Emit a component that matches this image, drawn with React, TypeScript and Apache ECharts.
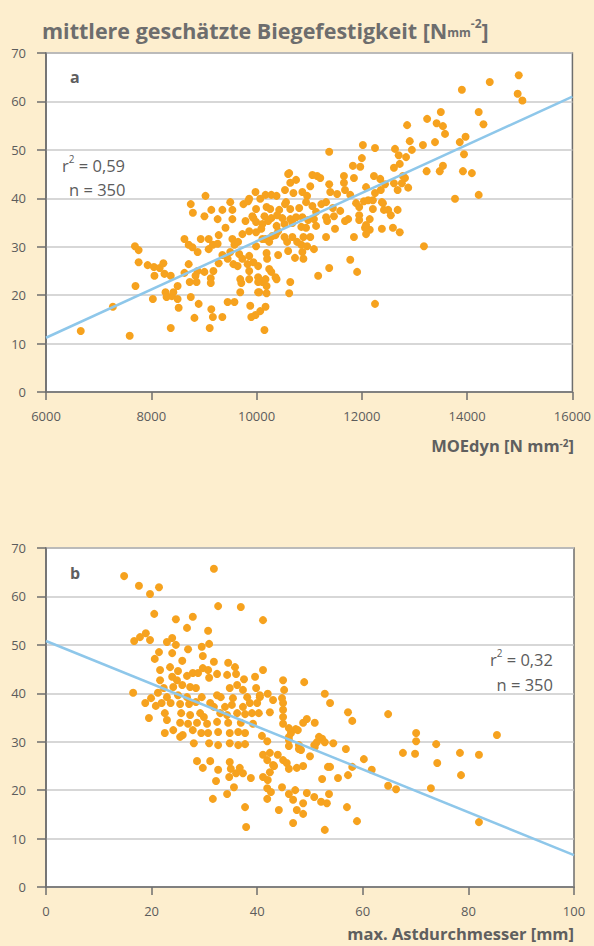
import React, { useEffect, useRef } from "react";
import * as echarts from "echarts";

// ---- Data -----------------------------------------------------------------
// a: MOEdyn [N mm-2] vs. estimated bending strength [N mm-2]
const pointsA: [number, number][] = [
  [14980,65.4],[14430,64.0],[13900,62.4],[14960,61.6],[15050,60.2],[14220,57.8],[13500,57.8],[13240,56.4],[13420,55.5],[13540,54.9],
  [14310,55.3],[13580,53.3],[12860,55.1],[12910,51.8],[13160,51.0],[13390,51.6],[13970,52.7],[13860,51.6],[13940,49.1],[12950,50.0],
  [12630,50.2],[12700,48.9],[12840,48.5],[12610,46.3],[12720,47.1],[13230,45.6],[13480,45.6],[13540,46.7],[13920,45.6],[14090,45.2],
  [14220,40.7],[13770,39.9],[12780,44.6],[12820,44.2],[12880,42.2],[12680,41.7],[12760,43.1],[12610,43.1],[12440,42.9],[12350,44.0],
  [12230,44.6],[12020,51.0],[12250,50.4],[12000,48.3],[11830,46.7],[11970,46.5],[11660,44.6],[11660,43.2],[12080,42.3],[12360,41.7],
  [11850,44.2],[12210,39.6],[12380,39.2],[12550,36.5],[12500,37.6],[12680,37.6],[12420,37.6],[12150,35.7],[11950,36.5],[11950,35.5],
  [11740,35.7],[11470,36.3],[11490,33.7],[11680,35.3],[12060,33.9],[12150,33.5],[12080,32.6],[11850,32.0],[12380,33.7],[12590,33.9],
  [12720,33.0],[13180,30.1],[11780,27.3],[11910,24.8],[12250,18.2],[11380,49.6],[11380,25.6],
  [10620,45.2],[11060,44.8],[11150,44.6],[11210,44.2],[10540,41.7],[10640,43.2],[10750,43.8],[11020,42.5],[11380,42.9],[11680,41.7],
  [12250,41.1],[9980,41.3],[10170,40.7],[10280,40.7],[10380,40.5],[10560,39.2],[10700,41.1],[10870,41.3],[10960,40.5],[11400,41.3],
  [11530,40.9],[11780,40.7],[12040,39.4],[12120,39.6],[12400,39.0],[12210,37.8],[11950,38.2],[11890,39.0],
  [9860,39.9],[10070,39.9],[9990,37.8],[10190,38.2],[10260,37.8],[10430,37.6],[10540,38.8],[10640,37.8],[10810,38.0],[10940,39.2],
  [11060,38.4],[11130,37.2],[11230,38.8],[11320,39.2],[11450,38.0],[11590,37.4],
  [10150,36.3],[10220,35.3],[10280,35.9],[10390,36.5],[10490,35.9],[10640,35.7],[10750,36.1],[10870,36.1],[10980,35.5],[11090,35.7],
  [11320,36.1],[9940,35.9],[9990,35.1],[10110,34.7],[10090,33.7],[10380,34.3],[10530,34.7],[10680,34.9],[10850,34.1],[10940,33.9],
  [11130,34.3],[11340,35.3],[12080,34.5],[11320,32.0],
  [9860,33.2],[9990,33.0],[10110,31.6],[10240,31.0],[10360,32.4],[10530,32.0],[10580,31.0],[10680,32.0],[10770,31.0],[10890,32.0],
  [11020,32.0],[10850,30.4],[10960,30.1],[11090,29.5],[10410,28.3],[10600,29.1],[10730,27.7],[10870,28.9],[10890,27.5],[10190,28.7],
  [9990,30.1],[9860,28.1],[9940,26.8],[10200,27.5],[10280,24.8],[10380,23.3],[10030,23.7],[10110,22.7],[10190,21.9],[10050,20.6],
  [10190,20.4],[10620,20.4],[10640,22.7],[11170,24.0],
  [6660,12.6],[7270,17.6],[7590,11.6],[7690,30.1],[7760,29.3],[7760,26.8],[7700,21.9],[7930,26.2],[8050,25.8],[8160,25.6],
  [8230,26.6],[8060,24.0],[8250,24.4],[8370,24.0],[8030,19.2],[8270,20.6],[8290,19.6],[8390,19.8],[8420,20.6],[8500,19.2],
  [8520,17.4],[8370,13.2],[8500,21.9],[8630,31.6],[8710,30.4],[8780,29.9],[8880,28.9],[8940,31.6],[9090,31.6],[9090,29.5],
  [9170,30.4],[9260,30.6],[8710,26.4],[8630,24.6],[8880,25.0],[9010,24.8],[8840,24.0],[8730,22.7],[8860,22.7],[9130,23.5],
  [9130,22.5],[9180,25.0],[9280,26.6],[9350,28.3],[8900,18.2],[8750,19.6],[8820,15.3],[9110,13.2],[9140,17.1],[9170,15.5],
  [9350,15.5],[9450,18.6],[9580,18.6],[8750,38.8],[8790,37.0],[9030,40.5],[9010,36.3],[9140,37.6],[9260,35.7],[9350,37.6],
  [9280,32.4],[9410,33.9],[9500,39.2],[9540,37.6],[9540,35.7],[9540,31.6],[9580,30.4],[9500,28.9],[9450,27.5],[9560,26.4],
  [9640,26.0],[9650,31.0],[9730,32.6],[9750,38.8],[9840,39.4],[9790,35.3],[9920,36.3],[9670,28.5],[9730,27.5],[9830,26.4],
  [9860,25.0],[9860,23.3],[9690,23.3],[9710,22.5],[9690,20.6],[9880,17.8],[9900,15.5],[9980,15.9],[10070,16.7],[10170,17.6],
  [10150,12.8],[10030,20.6],[10030,22.7],[10170,23.3],[10240,25.4],[10360,23.7],[10030,26.0],[10170,31.6],[10300,32.2],[10410,33.2],
  [10600,45.0],
];
const trendA: [number, number][] = [[6000, 11.2], [16000, 61.0]];

// b: max. knot diameter [mm] vs. estimated bending strength [N mm-2]
const pointsB: [number, number][] = [
  [14.8,64.2],[31.8,65.7],[17.6,62.2],[19.7,60.5],[21.4,61.9],[20.5,56.4],[32.6,58.0],[36.9,57.8],[41.1,55.1],[24.6,55.3],
  [26.7,53.5],[27.8,55.8],[30.7,52.9],[16.7,50.8],[17.8,51.6],[18.9,52.4],[19.7,51.0],[22.9,50.6],[23.9,51.4],[24.6,50.0],
  [21.4,48.5],[20.6,47.1],[23.9,48.3],[26.9,49.1],[29.5,49.6],[30.9,50.2],[29.7,47.7],[25.8,46.7],[31.8,46.5],[23.5,45.4],
  [21.6,44.8],[25.0,44.6],[29.7,45.2],[30.7,44.8],[34.5,46.3],[35.8,45.4],[41.1,44.8],[21.6,42.7],[23.9,43.4],[24.8,42.7],
  [26.7,43.6],[27.8,44.2],[28.8,44.2],[30.9,43.2],[32.4,44.0],[34.3,43.8],[36.0,44.0],[37.5,42.9],[39.6,43.4],[24.1,41.3],
  [25.8,41.7],[27.3,41.3],[28.4,41.1],[22.3,41.1],[34.8,41.1],[36.2,41.7],[37.3,40.7],[39.8,41.1],[16.5,40.1],[21.2,40.1],
  [22.9,39.2],[25.0,39.6],[26.7,39.2],[29.5,39.2],[32.4,39.6],[33.1,39.2],[35.4,39.0],[38.1,39.2],[40.5,39.2],[42.0,39.9],
  [43.0,38.6],[19.9,39.0],[18.8,38.0],[20.8,37.4],[21.9,38.0],[23.6,38.0],[25.4,37.8],[27.1,37.8],[28.4,38.2],[31.1,38.0],
  [31.8,37.2],[33.9,37.2],[35.2,37.6],[37.3,37.2],[38.6,38.0],[40.0,38.0],[19.5,34.9],[22.5,35.9],[25.6,35.9],[27.3,35.5],
  [29.2,35.9],[29.9,35.1],[33.0,35.9],[34.3,35.5],[36.2,35.9],[37.7,35.7],[39.0,35.9],[40.3,35.9],[42.4,36.1],[22.9,34.5],
  [25.4,33.9],[26.9,33.7],[28.6,33.9],[30.5,33.7],[32.4,34.1],[34.5,33.9],[36.9,33.9],[39.2,33.7],[22.5,31.8],[24.1,32.4],
  [25.9,31.4],[27.8,32.4],[29.4,31.8],[30.7,31.8],[32.6,32.0],[34.8,31.8],[36.4,32.0],[37.7,31.8],[40.9,31.2],[41.9,30.1],
  [28.0,29.7],[30.9,29.7],[32.6,29.3],[34.8,29.7],[36.4,29.3],[37.7,29.5],
  [25.4,31.0],[28.6,26.0],[29.7,24.6],[31.1,26.0],[32.6,24.2],[32.2,21.9],[31.6,18.2],[34.3,19.2],[35.6,20.6],[34.8,25.8],
  [35.0,24.4],[34.7,22.7],[36.0,23.5],[36.7,24.6],[37.3,23.5],[38.8,22.5],[37.7,16.5],[37.9,12.4],[41.1,27.3],[41.9,26.2],
  [42.4,27.7],[43.0,25.2],[42.4,23.7],[41.1,22.7],[42.0,22.1],[41.9,20.4],[42.6,19.6],[41.9,18.2],[44.1,15.9],[44.7,20.6],
  [43.9,27.3],[44.9,26.2],[45.6,25.6],[46.0,24.4],[47.5,24.6],[48.7,25.0],[50.0,27.0],[46.0,29.1],[46.0,30.4],[46.4,31.8],
  [46.0,32.8],[47.3,32.6],[48.7,33.9],[49.4,34.7],[47.9,29.3],[48.3,28.3],[50.9,28.9],[51.3,29.9],[52.3,30.6],[52.8,29.9],
  [50.9,33.9],[47.2,20.0],[46.0,19.2],[46.8,18.0],[48.7,17.3],[47.5,15.9],[49.4,19.4],[50.8,18.6],[52.1,17.6],[53.2,17.3],
  [46.8,13.2],[52.3,22.3],[53.4,24.8],[52.8,11.8],[40.5,39.6],[44.9,38.0],[44.9,36.6],[44.9,35.1],[44.9,33.7],
  [44.9,42.7],[48.9,42.3],[45.1,40.7],[44.7,39.0],[52.8,39.9],[53.8,38.0],[57.2,36.1],[58.0,34.3],[64.8,35.7],[47.7,32.4],
  [46.0,31.0],[51.7,31.0],[54.4,29.7],[50.8,29.3],[47.9,28.5],[56.8,28.5],[60.2,26.4],[70.1,31.8],[70.1,30.1],[69.9,27.5],
  [67.6,27.7],[73.9,29.5],[74.1,25.6],[78.4,27.7],[82.0,27.3],[85.4,31.4],[78.6,23.1],[72.9,20.4],[66.3,20.2],[64.8,20.9],
  [61.7,24.2],[58.0,24.8],[57.2,23.1],[55.3,22.5],[53.8,24.8],[57.0,16.5],[58.9,13.6],[82.0,13.4],[48.7,15.1],[53.6,19.2],
  [43.2,25.0],
];
const trendB: [number, number][] = [[0, 50.8], [100, 6.6]];

const xTicksA = { min: 6000, max: 16000, interval: 2000 };
const xTicksB = { min: 0, max: 100, interval: 20 };
const yTicks = { min: 0, max: 70, interval: 10 };

// ---- Styles -----------------------------------------------------------------
const BG = "#FDEECE";
const FONT = "'Open Sans', 'Noto Sans', sans-serif";
const TEXT = "#5c5c5c";
const TITLE = "#6d6d6d";
const AXIS = "#6e6e6e";
const ORANGE = "#F6A21E";
const BLUE = "#8EC7EA";

function xAxisCfg(grid: number, t: { min: number; max: number; interval: number }) {
  return {
    type: "value",
    gridIndex: grid,
    min: t.min,
    max: t.max,
    interval: t.interval,
    axisLine: { show: true, onZero: false, lineStyle: { color: AXIS, width: 1.5 } },
    axisTick: { show: true, length: 8, lineStyle: { color: AXIS, width: 1.5 } },
    axisLabel: { color: TEXT, fontSize: 13, fontFamily: FONT, margin: 17, formatter: (v: number) => String(v) },
    splitLine: { show: false },
  };
}
function yAxisCfg(grid: number) {
  return {
    type: "value",
    gridIndex: grid,
    min: yTicks.min,
    max: yTicks.max,
    interval: yTicks.interval,
    axisLine: { show: true, onZero: false, lineStyle: { color: AXIS, width: 1.5 } },
    axisTick: { show: true, length: 9, lineStyle: { color: AXIS, width: 1.5 } },
    axisLabel: { color: TEXT, fontSize: 13, fontFamily: FONT, margin: 20 },
    splitLine: { show: true, lineStyle: { color: "#cacaca", width: 1.5 } },
  };
}

const titleRich = {
  t: { fontSize: 21.5, fontWeight: "bold", fill: TITLE, fontFamily: FONT, lineHeight: 28, verticalAlign: "bottom" },
  s: { fontSize: 12, fontWeight: "bold", fill: TITLE, fontFamily: FONT, lineHeight: 28, verticalAlign: "bottom", padding: [0, 0, 3, 0] },
  p: { fontSize: 12, fontWeight: "bold", fill: TITLE, fontFamily: FONT, lineHeight: 28, verticalAlign: "top", padding: [4, 0, 0, 0] },
};
const axisNameRich = {
  t: { fontSize: 16.5, fontWeight: "bold", fill: "#5f5f5f", fontFamily: FONT, lineHeight: 16, verticalAlign: "bottom" },
  p: { fontSize: 10, fontWeight: "bold", fill: "#5f5f5f", fontFamily: FONT, lineHeight: 16, verticalAlign: "top" },
};
const statRich = {
  t: { fontSize: 16.5, fill: TEXT, fontFamily: FONT, lineHeight: 20, verticalAlign: "bottom" },
  p: { fontSize: 10, fill: TEXT, fontFamily: FONT, lineHeight: 20, verticalAlign: "top" },
};

export default function App() {
  const ref = useRef<HTMLDivElement>(null);
  useEffect(() => {
    document.body.style.margin = "0";
    document.body.style.background = BG;
    if (!ref.current) return;
    const chart = echarts.init(ref.current, null, { renderer: "svg" });
    chart.setOption({
      animation: false,
      backgroundColor: BG,
      grid: [
        { left: 46, top: 53, width: 528, height: 339, show: true, backgroundColor: "#ffffff", borderColor: AXIS, borderWidth: 1.5 },
        { left: 46, top: 548, width: 528, height: 339, show: true, backgroundColor: "#ffffff", borderColor: AXIS, borderWidth: 1.5 },
      ],
      xAxis: [xAxisCfg(0, xTicksA), xAxisCfg(1, xTicksB)],
      yAxis: [yAxisCfg(0), yAxisCfg(1)],
      series: [
        { type: "scatter", xAxisIndex: 0, yAxisIndex: 0, data: pointsA, symbolSize: 8, itemStyle: { color: ORANGE, opacity: 1 }, silent: true },
        { type: "line", xAxisIndex: 0, yAxisIndex: 0, data: trendA, symbol: "none", lineStyle: { color: BLUE, width: 2.5 }, silent: true, z: 3 },
        { type: "scatter", xAxisIndex: 1, yAxisIndex: 1, data: pointsB, symbolSize: 8, itemStyle: { color: ORANGE, opacity: 1 }, silent: true },
        { type: "line", xAxisIndex: 1, yAxisIndex: 1, data: trendB, symbol: "none", lineStyle: { color: BLUE, width: 2.5 }, silent: true, z: 3 },
      ],
      graphic: [
        { type: "text", x: 42, y: 27, style: { text: "{t|mittlere geschätzte Biegefestigkeit [N}{s|mm}{p|-2}{t|]}", rich: titleRich, verticalAlign: "middle" } },
        { type: "text", x: 574, y: 446, style: { text: "{t|MOEdyn [N mm}{p|-2}{t|]}", rich: axisNameRich, align: "right", verticalAlign: "middle" } },
        { type: "text", x: 574, y: 934, style: { text: "{t|max. Astdurchmesser [mm]}", rich: axisNameRich, align: "right", verticalAlign: "middle" } },
        { type: "text", x: 70, y: 77, style: { text: "a", fontSize: 16, fontWeight: "bold", fill: "#5f5f5f", fontFamily: FONT, verticalAlign: "middle" } },
        { type: "text", x: 70, y: 573, style: { text: "b", fontSize: 16, fontWeight: "bold", fill: "#5f5f5f", fontFamily: FONT, verticalAlign: "middle" } },
        { type: "text", x: 62, y: 164, style: { text: "{t|r}{p|2}{t| = 0,59}", rich: statRich, verticalAlign: "middle" } },
        { type: "text", x: 69, y: 188, style: { text: "{t|n = 350}", rich: statRich, verticalAlign: "middle" } },
        { type: "text", x: 553, y: 658, style: { text: "{t|r}{p|2}{t| = 0,32}", rich: statRich, align: "right", verticalAlign: "middle" } },
        { type: "text", x: 553, y: 683, style: { text: "{t|n = 350}", rich: statRich, align: "right", verticalAlign: "middle" } },
      ],
    });
    return () => chart.dispose();
  }, []);
  return <div ref={ref} style={{ width: 594, height: 946, background: BG }} />;
}
